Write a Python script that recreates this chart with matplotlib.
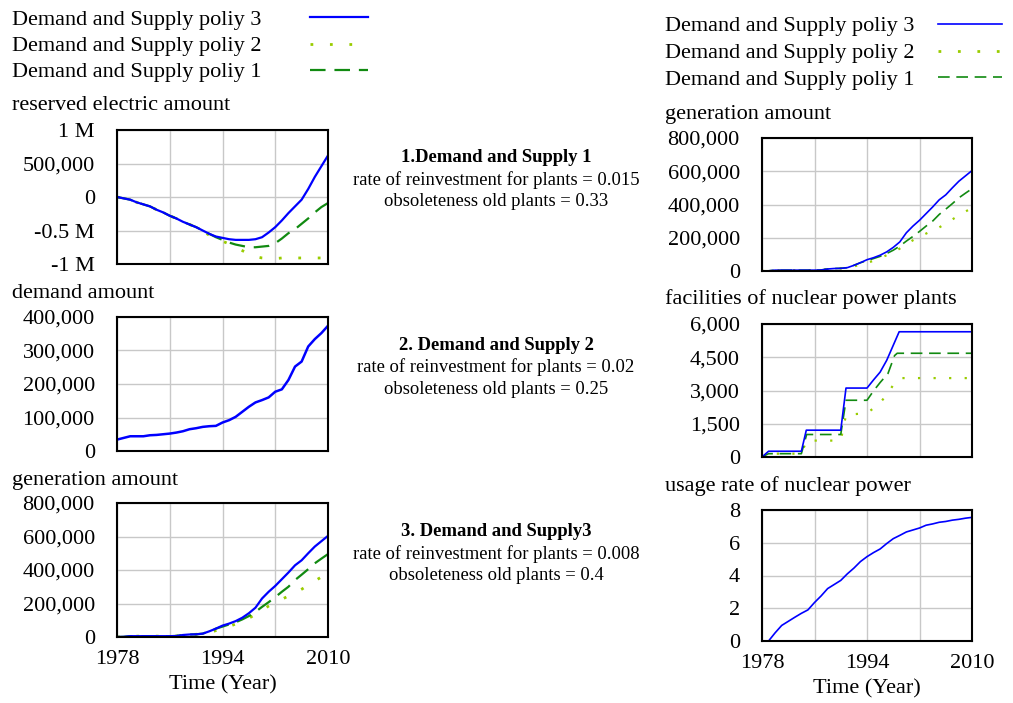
import numpy as np
import matplotlib
matplotlib.use("Agg")
import matplotlib.pyplot as plt
from matplotlib.lines import Line2D
from matplotlib.ticker import FuncFormatter

plt.rcParams['font.family'] = ['Liberation Serif', 'DejaVu Serif']

W, H = 1013, 703

years = np.arange(1978, 2011)

# reserved electric amount
reserve_p3 = [0, -20000, -40000, -80000, -110000, -140000, -190000, -230000, -280000, -320000,
              -370000, -410000, -450000, -500000, -550000, -590000, -610000, -630000, -640000,
              -640000, -640000, -630000, -600000, -530000, -450000, -350000, -240000, -140000,
              -40000, 120000, 300000, 460000, 620000]
reserve_p2 = [0, -20000, -40000, -80000, -110000, -140000, -190000, -230000, -280000, -320000,
              -370000, -410000, -450000, -510000, -570000, -620000, -660000, -700000, -750000,
              -800000, -850000, -890000, -910000, -920000, -920000, -910000, -910000, -910000,
              -910000, -910000, -910000, -910000, -910000]
reserve_p1 = [0, -20000, -40000, -80000, -110000, -140000, -190000, -230000, -280000, -320000,
              -370000, -410000, -450000, -500000, -550000, -600000, -640000, -680000, -710000,
              -730000, -750000, -750000, -740000, -730000, -690000, -620000, -540000, -480000,
              -400000, -320000, -230000, -150000, -90000]

# demand amount
demand = [34000, 39000, 44000, 44000, 44000, 47000, 48000, 50000, 52000, 55000, 59000, 65000,
          68000, 72000, 74000, 75000, 85000, 92000, 102000, 117000, 132000, 145000, 152000,
          160000, 177000, 184000, 212000, 252000, 267000, 312000, 334000, 352000, 374000]

# generation amount
gen_p3 = [0, 1000, 5000, 5000, 5000, 5000, 5000, 5000, 5000, 6000, 12000, 15000, 16000, 20000,
          34000, 50000, 68000, 80000, 95000, 115000, 142000, 175000, 230000, 270000, 305000,
          345000, 385000, 428000, 458000, 500000, 540000, 572000, 604000]
gen_p2 = [0, 1000, 5000, 5000, 5000, 5000, 5000, 5000, 5000, 6000, 12000, 15000, 16000, 20000,
          28000, 38000, 48000, 62000, 78000, 95000, 112000, 135000, 160000, 185000, 205000,
          225000, 245000, 262000, 285000, 310000, 335000, 358000, 378000]
gen_p1 = [0, 1000, 5000, 5000, 5000, 5000, 5000, 5000, 5000, 6000, 12000, 15000, 16000, 20000,
          34000, 50000, 62000, 75000, 88000, 105000, 125000, 150000, 180000, 208000, 238000,
          270000, 300000, 340000, 372000, 405000, 440000, 468000, 495000]

# facilities of nuclear power plants (stepwise, irregular times)
fac_t3 = [1978, 1979, 1984, 1984.75, 1990, 1990.8, 1994, 1995, 1996, 1997, 1998.9, 2010]
fac_p3 = [0, 260, 260, 1210, 1210, 3110, 3110, 3480, 3830, 4360, 5650, 5650]
fac_t2 = [1978, 1979, 1984, 1984.8, 1990, 1990.8, 1994, 1995, 1996, 1997, 1998, 1999, 2010]
fac_p2 = [0, 150, 150, 740, 740, 1900, 1980, 2200, 2450, 2800, 3250, 3560, 3560]
fac_t1 = [1978, 1979, 1984, 1984.8, 1990, 1990.8, 1994, 1995, 1996, 1997.2, 1998.2, 1998.6, 2010]
fac_p1 = [0, 150, 150, 1015, 1015, 2560, 2560, 2985, 3360, 3770, 4575, 4680, 4680]

# usage rate of nuclear power
usage = [0, 0, 0.5, 0.95, 1.2, 1.45, 1.69, 1.9, 2.35, 2.75, 3.2, 3.45, 3.7, 4.1, 4.45, 4.85,
         5.15, 5.4, 5.62, 5.95, 6.25, 6.45, 6.66, 6.78, 6.9, 7.07, 7.15, 7.25, 7.3, 7.38, 7.43,
         7.5, 7.55]

policy_names = ["Demand and Supply poliy 3", "Demand and Supply poliy 2", "Demand and Supply poliy 1"]

BLUE = "#0000ff"
YEL = "#99cc00"
GRN = "#118a11"
styles = [dict(color=BLUE, ls="-"),
          dict(color=YEL, ls=(0, (1, 6))),
          dict(color=GRN, ls=(0, (7, 4)))]


def box(x0, y0, x1, y1):
    return [x0 / W, 1 - y1 / H, (x1 - x0) / W, (y1 - y0) / H]


def comma(v, pos):
    return f"{int(v):,}"


def mfmt(v, pos):
    if v == 0:
        return "0"
    if v == 500000:
        return "500,000"
    return f"{v / 1e6:g} M"


fig = plt.figure(figsize=(W / 100, H / 100), dpi=100)


def panel(rect, ylim, yticks, fmt, bottom=False):
    ax = fig.add_axes(box(*rect))
    ax.set_xlim(1978, 2010)
    ax.set_ylim(*ylim)
    ax.set_yticks(yticks)
    ax.yaxis.set_major_formatter(FuncFormatter(fmt))
    ax.set_xticks([1978, 1986, 1994, 2002, 2010])
    ax.grid(True, color="#c8c8c8", lw=1)
    ax.set_axisbelow(True)
    for s in ax.spines.values():
        s.set_linewidth(1.5)
    ax.tick_params(axis="y", length=0, labelsize=16, pad=16)
    ax.tick_params(axis="x", length=0, labelsize=16, pad=9)
    if bottom:
        ax.set_xticklabels(["1978", "", "1994", "", "2010"])
        ax.set_xlabel("Time (Year)", fontsize=16, labelpad=5)
    else:
        ax.set_xticklabels([])
    return ax


# left column
ax = panel((117, 130, 328, 264), (-1e6, 1e6), [-1e6, -5e5, 0, 5e5, 1e6], mfmt)
ax.plot(years, reserve_p2, lw=2, **styles[1])
ax.plot(years, reserve_p1, lw=1.6, **styles[2])
ax.plot(years, reserve_p3, lw=1.6, **styles[0])

ax = panel((117, 317, 328, 451), (0, 4e5), [0, 1e5, 2e5, 3e5, 4e5], comma)
ax.plot(years, demand, lw=1.8, **styles[0])

ax = panel((117, 503, 328, 637), (0, 8e5), [0, 2e5, 4e5, 6e5, 8e5], comma, bottom=True)
ax.plot(years, gen_p2, lw=2, **styles[1])
ax.plot(years, gen_p1, lw=1.6, **styles[2])
ax.plot(years, gen_p3, lw=1.6, **styles[0])

# right column
ax = panel((762, 138, 972, 271), (0, 8e5), [0, 2e5, 4e5, 6e5, 8e5], comma)
ax.plot(years, gen_p2, lw=1.6, **styles[1])
ax.plot(years, gen_p1, lw=1.2, **styles[2])
ax.plot(years, gen_p3, lw=1.2, **styles[0])

ax = panel((762, 324, 972, 457), (0, 6000), [0, 1500, 3000, 4500, 6000], comma)
ax.plot(fac_t2, fac_p2, lw=1.6, **styles[1])
ax.plot(fac_t1, fac_p1, lw=1.2, **styles[2])
ax.plot(fac_t3, fac_p3, lw=1.2, **styles[0])

ax = panel((762, 510, 972, 641), (0, 8), [0, 2, 4, 6, 8], lambda v, p: f"{v:g}", bottom=True)
ax.plot(years, usage, lw=1.2, **styles[0])

# panel titles
for x, y, t in [(12, 106, "reserved electric amount"), (12, 293, "demand amount"),
                (12, 480, "generation amount"), (665, 114, "generation amount"),
                (665, 299, "facilities of nuclear power plants"),
                (665, 486, "usage rate of nuclear power")]:
    fig.text(x / W, 1 - y / H, t, fontsize=16, va="center", ha="left")

# legends
for lx, ly, l0, l1, lw in [(12, 20, 310, 368, 1.6), (665, 27, 938, 1002, 1.2)]:
    for i, name in enumerate(policy_names):
        y = ly + i * 26.5
        fig.text(lx / W, 1 - y / H, name, fontsize=16, va="center", ha="left")
        fig.add_artist(Line2D([l0 / W, l1 / W], [1 - (y - 3) / H, 1 - (y - 3) / H],
                              lw=lw if i != 1 else 2, transform=fig.transFigure, **styles[i]))

# scenario notes
notes = [(158, "1.Demand and Supply 1", "rate of reinvestment for plants = 0.015",
          "obsoleteness old plants = 0.33"),
         (345, "2. Demand and Supply 2", "rate of reinvestment for plants = 0.02",
          "obsoleteness old plants = 0.25"),
         (532, "3. Demand and Supply3", "rate of reinvestment for plants = 0.008",
          "obsoleteness old plants = 0.4")]
for y, head, l1, l2 in notes:
    fig.text(496 / W, 1 - y / H, head, fontsize=13.4, fontweight="bold", ha="center", va="center")
    fig.text(496 / W, 1 - (y + 22) / H, l1, fontsize=13.4, ha="center", va="center")
    fig.text(496 / W, 1 - (y + 44) / H, l2, fontsize=13.4, ha="center", va="center")

fig.savefig("out.png", dpi=100)
